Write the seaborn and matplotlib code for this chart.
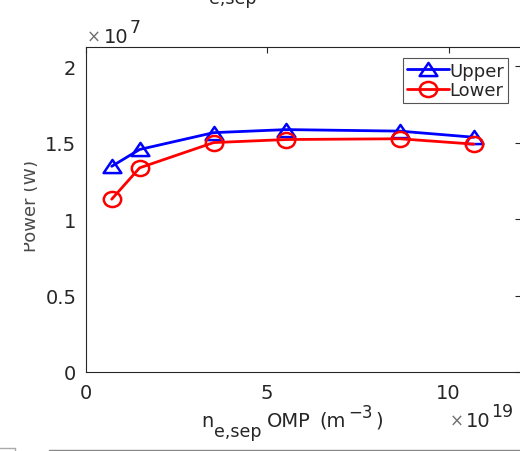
import matplotlib
matplotlib.use("Agg")
import matplotlib.pyplot as plt
import seaborn as sns
import pandas as pd
from matplotlib.lines import Line2D
from matplotlib.patches import Rectangle
from matplotlib.path import Path
from matplotlib.transforms import Affine2D

# Data (x in units of 1e19 m^-3, power in units of 1e7 W)
density = [0.71, 1.48, 3.52, 5.53, 8.65, 10.7]
power_upper = [1.345, 1.455, 1.565, 1.585, 1.575, 1.535]
power_lower = [1.13, 1.335, 1.50, 1.52, 1.525, 1.49]
series_names = ["Upper", "Lower"]
x_ticks = [0, 5, 10]
y_ticks = [0, 0.5, 1, 1.5, 2]

sns.set_theme(style="white")
plt.rcParams['font.family'] = ['DejaVu Sans']
plt.rcParams['mathtext.fontset'] = 'dejavusans'

W, H = 520, 452
FS = 14
dark = "#262626"
grey = "#707070"

fig = plt.figure(figsize=(W / 100, H / 100), dpi=100)
ax = fig.add_axes([86 / W, 1 - 373 / H, (521 - 86) / W, (373 - 48) / H])

df = pd.DataFrame({"x": density, "Upper": power_upper, "Lower": power_lower})

# the reference is slightly stretched horizontally: wide triangles / ellipses
tri = Path([(0, 0.74), (-1, -0.74), (1, -0.74), (0, 0.74)],
           [Path.MOVETO, Path.LINETO, Path.LINETO, Path.CLOSEPOLY])
ell = Path.unit_circle().transformed(Affine2D().scale(1.0, 0.87))

sns.lineplot(data=df, x="x", y="Upper", ax=ax, color="#0000ff", lw=2,
             marker=tri, ms=12.8, mfc="none", mec="#0000ff", mew=1.8,
             label=series_names[0])
sns.lineplot(data=df, x="x", y="Lower", ax=ax, color="#ff0000", lw=2,
             marker=ell, ms=12.5, mfc="none", mec="#ff0000", mew=1.8,
             label=series_names[1])

ax.set_xlim(0, 12)
ax.set_ylim(0, 2.125)
ax.set_xticks(x_ticks)
ax.set_yticks(y_ticks)
ax.set_xticklabels([f"{v:g}" for v in x_ticks])
ax.set_yticklabels([f"{v:g}" for v in y_ticks])

for s in ax.spines.values():
    s.set_color(dark)
    s.set_linewidth(0.8)
ax.tick_params(direction="in", length=4, width=0.8, colors=dark,
               labelsize=14, top=True, right=True, labelcolor=dark)
ax.tick_params(axis="x", pad=8)
ax.tick_params(axis="y", pad=7)
ax.set_xlabel("")
ax.set_ylabel("")


def px(x, y):
    return x / W, 1 - y / H


def piece(x, y, s, size=FS, color=dark):
    return fig.text(*px(x, y), s, ha="left", va="baseline", fontsize=size,
                    color=color)


# x label built from pieces (MATLAB-style large subscript)
piece(201, 427, "n")
piece(214, 437, "e,sep", FS - 1.5)
piece(267, 427, "OMP")
piece(319, 427, "(m")
piece(348, 418, "\u22123", FS - 2)
piece(375, 427, ")")

# multipliers
piece(450, 427, "\u00d7", FS - 2, grey)
piece(466, 427, "10")
piece(491, 417, "19", FS - 1.5)

piece(87, 43, "\u00d7", FS - 2, grey)
piece(104, 43, "10")
piece(130, 33, "7", FS - 1.5)

# partially cropped y label
fig.text(*px(36, 206), "Power (W)", rotation=90, rotation_mode="anchor",
         ha="center", va="baseline", fontsize=13, color="#4a4a4a")
fig.add_artist(Rectangle((0, 4 / H), 24 / W, 1, transform=fig.transFigure,
                         facecolor="white", edgecolor="none", zorder=20))

# cropped label of the panel above (only its subscript shows)
piece(209, 4, "e,sep", FS - 1.5)

# edge of the panel below
fig.add_artist(Line2D([49 / W, 1], [1 - 451 / H, 1 - 451 / H],
                      transform=fig.transFigure, color="#888888", lw=1))
fig.add_artist(Line2D([0, 15 / W, 15 / W], [1 - 449 / H, 1 - 449 / H, 0],
                      transform=fig.transFigure, color="#aaaaaa", lw=1))

leg = ax.legend(loc="upper right",
                bbox_to_anchor=((508 - 86) / 435, (373 - 59) / 325),
                borderaxespad=0, fontsize=13, handlelength=2.3,
                handletextpad=0.05, labelspacing=0.1, borderpad=0.2,
                fancybox=False, framealpha=1, edgecolor="#555555")
leg.get_frame().set_linewidth(0.8)
for t in leg.get_texts():
    t.set_color(dark)

fig.savefig("out.png", dpi=100)
